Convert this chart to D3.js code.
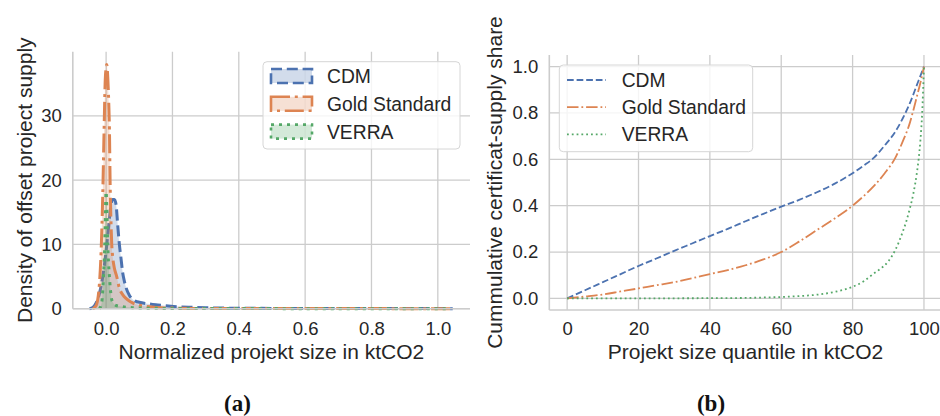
<!DOCTYPE html>
<html><head><meta charset="utf-8">
<script src="https://cdn.jsdelivr.net/npm/d3@7"></script>
<style>
body{margin:0;background:#fff;}
text{font-family:"Liberation Sans",Arial,sans-serif;fill:#262626;}
text.cap{font-family:"Liberation Serif","Times New Roman",serif;font-weight:bold;fill:#111;}
</style></head>
<body><svg id="c" width="940" height="416"></svg>
<script>
// ---------- data (a): KDE of normalized project size ----------
const seriesNames = ["CDM", "Gold Standard", "VERRA"];
const cdmX = [-0.05,-0.04,-0.03,-0.02,-0.01,0.0,0.01,0.015,0.02,0.025,0.03,0.035,0.04,0.045,0.05,0.055,0.06,0.07,0.08,0.09,0.1,0.12,0.15,0.18,0.22,0.26,0.3,0.35,0.4,0.5,0.6,0.7,0.8,0.9,1.0,1.045];
const cdmY = [0,0.2,0.9,2.4,5,9,14,16.2,17,17,16.2,13,10,7.8,5.6,4.3,3.3,2.1,1.45,1.15,1.0,0.8,0.62,0.45,0.3,0.22,0.15,0.1,0.07,0.05,0.04,0.03,0.03,0.03,0.02,0];
const gsX = [-0.04,-0.03,-0.02,-0.015,-0.01,-0.006,-0.003,0.0,0.002,0.005,0.008,0.01,0.012,0.015,0.017,0.02,0.025,0.032,0.04,0.05,0.06,0.07,0.08,0.1,0.12,0.15,0.2,0.3,0.5,0.7,0.9,1.0,1.04];
const gsY = [0,0.5,4,9,18,28,35,37.5,38,36,32,28,20,13,10,8,6.3,5,3.2,2.2,1.6,1.2,0.9,0.55,0.35,0.2,0.1,0.04,0.02,0.02,0.01,0.01,0];
const verraX = [-0.02,-0.013,-0.008,-0.004,-0.002,0.0,0.002,0.005,0.01,0.015,0.02,0.03,0.05,0.08,0.12,0.2,0.4,0.6,0.8,1.0,1.03];
const verraY = [0,1,5,10,15,18.2,16,10,5,2,1,0.5,0.3,0.15,0.08,0.04,0.02,0.01,0.01,0.01,0];
const xTicksA = [0.0,0.2,0.4,0.6,0.8,1.0];
const yTicksA = [0,10,20,30];

// ---------- data (b): cumulative supply share ----------
const cdmQ = [0,5,10,15,20,25,30,35,40,45,50,55,60,65,70,75,80,83,86,89,92,94,96,98,99,100];
const cdmS = [0,0.035,0.07,0.105,0.14,0.172,0.205,0.237,0.269,0.30,0.333,0.365,0.396,0.425,0.458,0.495,0.54,0.572,0.607,0.66,0.72,0.775,0.84,0.92,0.96,1.0];
const gsQ = [0,5,10,15,20,25,30,35,40,45,50,55,60,65,70,75,80,83,86,89,92,94,96,97,98,99,100];
const gsS = [0,0.008,0.017,0.03,0.043,0.057,0.07,0.087,0.105,0.122,0.143,0.168,0.2,0.245,0.295,0.345,0.4,0.44,0.485,0.54,0.607,0.675,0.755,0.81,0.87,0.93,1.0];
const verraQ = [0,10,20,30,40,50,55,60,65,70,75,80,83,86,88,90,92,94,95,96,97,98,98.5,99,99.5,100];
const verraS = [0,0,0,0.0005,0.001,0.002,0.004,0.006,0.01,0.016,0.028,0.05,0.073,0.108,0.13,0.16,0.21,0.285,0.33,0.385,0.45,0.54,0.6,0.68,0.8,1.0];
const xTicksB = [0,20,40,60,80,100];
const yTicksB = [0.0,0.2,0.4,0.6,0.8,1.0];

const colors = ["#4C72B0","#DD8452","#55A868"];
const gridCol = "#cccccc";

const svg = d3.select("#c");

function grid(g, x, y, xt, yt, x0, x1, y0, y1){
  g.selectAll(".gx").data(xt).join("line").attr("x1",d=>x(d)).attr("x2",d=>x(d))
    .attr("y1",y0).attr("y2",y1).attr("stroke",gridCol).attr("stroke-width",1.3);
  g.selectAll(".gy").data(yt).join("line").attr("y1",d=>y(d)).attr("y2",d=>y(d))
    .attr("x1",x0).attr("x2",x1).attr("stroke",gridCol).attr("stroke-width",1.3);
}

// ================= Panel (a) =================
{
  const L=72.8, R=470, T=51.7, B=308.7;
  const x = d3.scaleLinear().domain([-0.1004,1.097]).range([L,R]);
  const y = d3.scaleLinear().domain([0,40]).range([B,T]);
  const g = svg.append("g");
  const gg = g.append("g"); grid(gg, x, y, xTicksA, yTicksA, L, R, T, B);
  const dashA = ["11,4.8","19,4.8,3,4.8","3,5"];
  const sets = [[cdmX,cdmY],[gsX,gsY],[verraX,verraY]];
  sets.forEach(([xs,ys],i)=>{
    const pts = xs.map((v,k)=>[v,ys[k]]);
    const area = d3.area().x(d=>x(d[0])).y0(y(0)).y1(d=>y(d[1])).curve(d3.curveMonotoneX);
    const line = d3.line().x(d=>x(d[0])).y(d=>y(d[1])).curve(d3.curveMonotoneX);
    g.append("path").attr("d",area(pts)).attr("fill",colors[i]).attr("fill-opacity",0.25);
    g.append("path").attr("d",line(pts)).attr("fill","none").attr("stroke",colors[i])
      .attr("stroke-width",3).attr("stroke-dasharray",dashA[i]);
  });
  g.append("line").attr("x1",L).attr("x2",L).attr("y1",T).attr("y2",B).attr("stroke",gridCol).attr("stroke-width",1.6);
  g.append("line").attr("x1",L).attr("x2",R).attr("y1",B).attr("y2",B).attr("stroke",gridCol).attr("stroke-width",1.6);
  const ax = g.append("g").attr("transform",`translate(0,${B})`)
    .call(d3.axisBottom(x).tickValues(xTicksA).tickFormat(d3.format(".1f")).tickSize(0).tickPadding(13));
  const ay = g.append("g").attr("transform",`translate(${L},0)`)
    .call(d3.axisLeft(y).tickValues(yTicksA).tickFormat(d3.format("d")).tickSize(0).tickPadding(11));
  [ax,ay].forEach(a=>{a.select(".domain").remove();
    a.selectAll("text").attr("font-size",18.5).attr("fill","#262626");});
  g.append("text").attr("x",(L+R)/2).attr("y",359).attr("text-anchor","middle").attr("font-size",21)
    .text("Normalized projekt size in ktCO2");
  g.append("text").attr("transform",`translate(32,${(T+B)/2}) rotate(-90)`).attr("text-anchor","middle")
    .attr("font-size",21).text("Density of offset project supply");
  const lg = g.append("g");
  lg.append("rect").attr("x",263).attr("y",61.7).attr("width",197).attr("height",87.3).attr("rx",4)
    .attr("fill","#fff").attr("fill-opacity",0.8).attr("stroke","#d6d6d6").attr("stroke-width",1);
  seriesNames.forEach((n,i)=>{
    const cy = 76 + i*27.8;
    lg.append("rect").attr("x",271).attr("y",cy-7).attr("width",41).attr("height",14)
      .attr("fill",colors[i]).attr("fill-opacity",0.25).attr("stroke",colors[i]).attr("stroke-width",2.6)
      .attr("stroke-dasharray",dashA[i]);
    lg.append("text").attr("x",327).attr("y",cy+7).attr("font-size",19.3).text(n);
  });
}

// ================= Panel (b) =================
{
  const L=549.3, R=941.8, T=55, B=310;
  const x = d3.scaleLinear().domain([-5,105]).range([L,R]);
  const y = d3.scaleLinear().domain([-0.05,1.05]).range([B,T]);
  const g = svg.append("g");
  const gg = g.append("g"); grid(gg, x, y, xTicksB, yTicksB, L, R, T, B);
  const dashB = ["6.7,2.9","11.5,2.9,1.8,2.9","1.8,3"];
  const sets = [[cdmQ,cdmS],[gsQ,gsS],[verraQ,verraS]];
  sets.forEach(([xs,ys],i)=>{
    const pts = xs.map((v,k)=>[v,ys[k]]);
    const line = d3.line().x(d=>x(d[0])).y(d=>y(d[1])).curve(d3.curveMonotoneX);
    g.append("path").attr("d",line(pts)).attr("fill","none").attr("stroke",colors[i])
      .attr("stroke-width",1.8).attr("stroke-dasharray",dashB[i]);
  });
  g.append("line").attr("x1",L).attr("x2",L).attr("y1",T).attr("y2",B).attr("stroke",gridCol).attr("stroke-width",1.6);
  g.append("line").attr("x1",L).attr("x2",R).attr("y1",B).attr("y2",B).attr("stroke",gridCol).attr("stroke-width",1.6);
  const ax = g.append("g").attr("transform",`translate(0,${B})`)
    .call(d3.axisBottom(x).tickValues(xTicksB).tickFormat(d3.format("d")).tickSize(0).tickPadding(12));
  const ay = g.append("g").attr("transform",`translate(${L},0)`)
    .call(d3.axisLeft(y).tickValues(yTicksB).tickFormat(d3.format(".1f")).tickSize(0).tickPadding(11));
  [ax,ay].forEach(a=>{a.select(".domain").remove();
    a.selectAll("text").attr("font-size",18.5).attr("fill","#262626");});
  g.append("text").attr("x",(L+R)/2).attr("y",359).attr("text-anchor","middle").attr("font-size",21)
    .text("Projekt size quantile in ktCO2");
  g.append("text").attr("transform",`translate(502,${(T+B)/2}) rotate(-90)`).attr("text-anchor","middle")
    .attr("font-size",21).text("Cummulative certificat-supply share");
  const lg = g.append("g");
  lg.append("rect").attr("x",559.3).attr("y",65).attr("width",193.4).attr("height",86.7).attr("rx",4)
    .attr("fill","#fff").attr("fill-opacity",0.8).attr("stroke","#d6d6d6").attr("stroke-width",1);
  seriesNames.forEach((n,i)=>{
    const cy = 80 + i*27.2;
    lg.append("line").attr("x1",567).attr("x2",606).attr("y1",cy).attr("y2",cy).attr("stroke",colors[i])
      .attr("stroke-width",1.8).attr("stroke-dasharray",dashB[i]);
    lg.append("text").attr("x",621.7).attr("y",cy+7).attr("font-size",19.3).text(n);
  });
}

// captions
svg.append("text").attr("class","cap").attr("x",237.5).attr("y",411).attr("text-anchor","middle")
  .attr("font-size",23).text("(a)");
svg.append("text").attr("class","cap").attr("x",711).attr("y",411).attr("text-anchor","middle")
  .attr("font-size",23).text("(b)");
</script></body></html>
